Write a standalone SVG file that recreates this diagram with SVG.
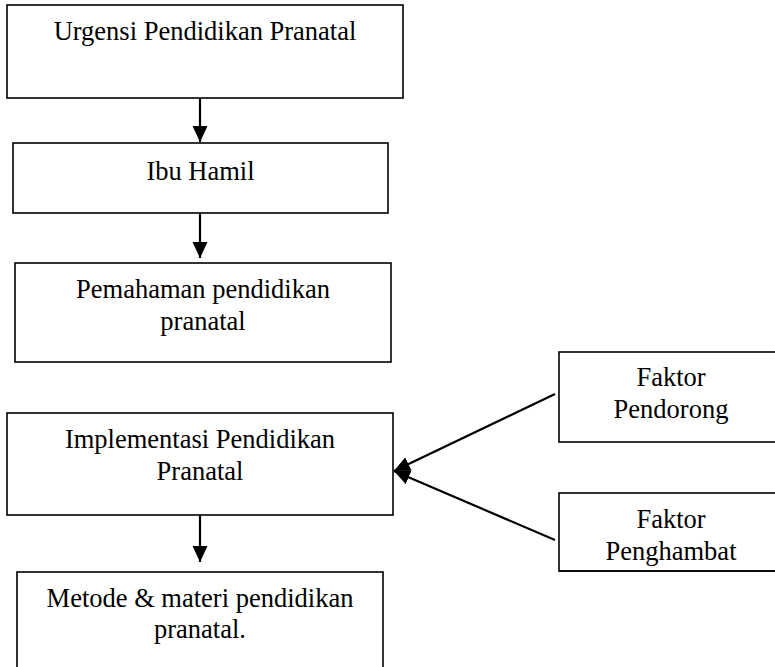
<svg xmlns="http://www.w3.org/2000/svg" width="775" height="667" viewBox="0 0 775 667">
<style>
.box{fill:#fff;stroke:#000;stroke-width:1.6}
.t{font-family:"Liberation Serif","Times New Roman",serif;font-size:26.5px;fill:#000;text-anchor:middle}
.c{stroke:#000;stroke-width:2.2;fill:none}
</style>
<defs>
<marker id="ah" markerUnits="userSpaceOnUse" markerWidth="18" markerHeight="16" refX="16" refY="7.5" orient="auto">
<path d="M0,0 L16,7.5 L0,15 Z" fill="#000"/>
</marker>
<clipPath id="clipPh"><rect x="559" y="493" width="230" height="78"/></clipPath>
</defs>
<rect width="775" height="667" fill="#fff"/>
<g id="n1">
<rect class="box" x="7" y="5" width="396" height="93"/>
<text class="t" x="205" y="40">Urgensi Pendidikan Pranatal</text>
</g>
<g id="n2">
<rect class="box" x="13" y="143" width="375" height="70"/>
<text class="t" x="200.5" y="180">Ibu Hamil</text>
</g>
<g id="n3">
<rect class="box" x="15" y="263" width="376" height="99"/>
<text class="t" x="203" y="298">Pemahaman pendidikan</text>
<text class="t" x="203" y="330">pranatal</text>
</g>
<g id="n4">
<rect class="box" x="7" y="413" width="386" height="102"/>
<text class="t" x="200" y="448">Implementasi Pendidikan</text>
<text class="t" x="200" y="480">Pranatal</text>
</g>
<g id="n5">
<rect class="box" x="559" y="352" width="225" height="90"/>
<text class="t" x="671" y="386">Faktor</text>
<text class="t" x="671" y="418">Pendorong</text>
</g>
<g id="n6">
<rect class="box" x="559" y="493" width="225" height="78"/>
<text class="t" x="671" y="528">Faktor</text>
<text class="t" x="671" y="560" clip-path="url(#clipPh)">Penghambat</text>
<line x1="559" y1="571" x2="775" y2="571" stroke="#000" stroke-width="1.6"/>
</g>
<g id="n7">
<rect class="box" x="17" y="572" width="366" height="110"/>
<text class="t" x="200" y="607">Metode &amp; materi pendidikan</text>
<text class="t" x="200" y="638">pranatal.</text>
</g>
<g id="connectors">
<line class="c" x1="200" y1="98" x2="200" y2="142" marker-end="url(#ah)"/>
<line class="c" x1="200" y1="213" x2="200" y2="258" marker-end="url(#ah)"/>
<line class="c" x1="200" y1="515" x2="200" y2="562" marker-end="url(#ah)"/>
<line class="c" x1="555" y1="394" x2="394" y2="471" marker-end="url(#ah)"/>
<line class="c" x1="555" y1="540" x2="394" y2="471" marker-end="url(#ah)"/>
</g>
</svg>
